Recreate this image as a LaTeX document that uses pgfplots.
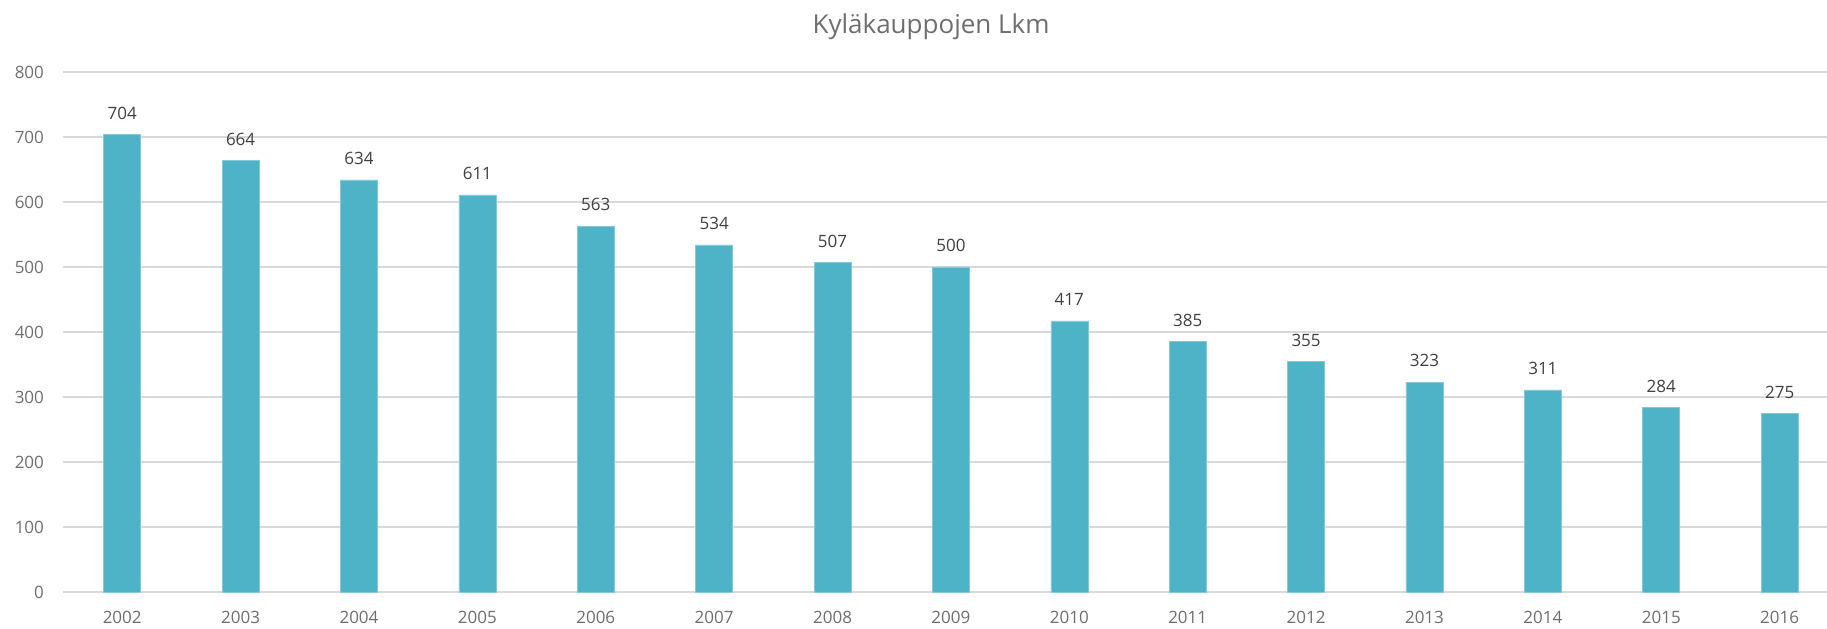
\documentclass[border=0pt]{standalone}
\usepackage{pgfplots}
\pgfplotsset{compat=1.18}
\usepackage{fontspec}
\setmainfont{Open Sans}
\definecolor{barc}{HTML}{4FB3C8}
\definecolor{gridc}{HTML}{D9D9D9}
\definecolor{tickc}{HTML}{6E6E6E}
\definecolor{labc}{HTML}{404040}
\begin{document}
\begin{tikzpicture}
\begin{axis}[
  scale only axis,
  width=882pt, height=260pt,
  xmin=-0.5, xmax=14.4,
  ymin=0, ymax=800,
  ytick={0,100,...,800},
  xtick={0,...,14},
  xticklabels={2002,2003,2004,2005,2006,2007,2008,2009,2010,2011,2012,2013,2014,2015,2016},
  axis line style={draw=none},
  major tick length=0pt,
  ymajorgrids, grid style={gridc, line width=0.8pt},
  tick label style={font=\fontsize{8.5}{10}\selectfont, text=tickc},
  yticklabel style={xshift=-6pt},
  xticklabel style={yshift=-6pt},
  /pgf/number format/assume math mode=true,
  clip=false,
]
\addplot[ybar, bar width=18.5pt, fill=barc, draw=barc!70!white, line width=0.3pt,
  nodes near coords, every node near coord/.append style={font=\fontsize{8.5}{10}\selectfont, text=labc, yshift=4pt}]
  coordinates {(0,704)(1,664)(2,634)(3,611)(4,563)(5,534)(6,507)(7,500)(8,417)(9,385)(10,355)(11,323)(12,311)(13,284)(14,275)};
\end{axis}
\node[font=\fontsize{13}{15}\selectfont, text=tickc] at ([xshift=434pt,yshift=22.5pt]current axis.north west) {Kyläkauppojen Lkm};
\pgfresetboundingbox
\path[use as bounding box] ([xshift=-31.5pt,yshift=-18.5pt]current axis.south west) rectangle ([yshift=36pt]current axis.north east);
\end{tikzpicture}
\end{document}
